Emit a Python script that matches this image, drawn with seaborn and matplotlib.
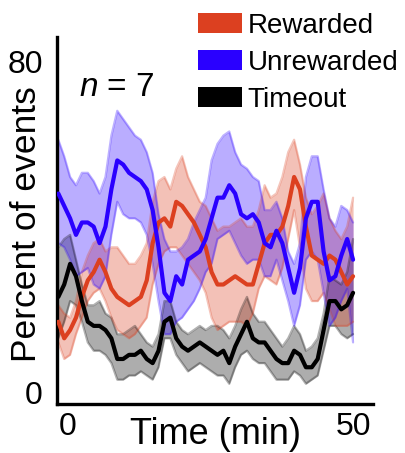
import numpy as np
import pandas as pd
import matplotlib
matplotlib.use("Agg")
import matplotlib.pyplot as plt
from matplotlib.patches import Patch
import seaborn as sns

# ---------------- data ----------------
time_min = list(range(0, 51))

unrewarded_mean = [48, 45, 42, 38, 41, 41, 40, 36, 40, 49, 56, 55, 53, 52, 51, 49, 44, 35, 24, 22,
                   28, 26, 32, 33, 34, 37, 42, 47, 47, 50, 48, 43, 42, 43, 41, 36, 35, 39, 36, 30,
                   24, 30, 42, 46, 46, 34, 27, 28, 33, 37, 32]
unrewarded_upper = [61, 57, 52, 50, 53, 53, 51, 48, 52, 62, 68, 66, 64, 62, 61, 58, 53, 43, 37, 34,
                    34, 35, 37, 41, 44, 47, 56, 60, 62, 63, 58, 55, 54, 52, 51, 44, 44, 46, 42, 34,
                    31, 36, 52, 57, 57, 49, 42, 40, 45, 44, 41]
unrewarded_lower = [36, 35, 32, 28, 29, 30, 26, 25, 28, 38, 46, 43, 42, 42, 41, 38, 31, 22, 14, 14,
                    17, 18, 20, 22, 25, 29, 31, 37, 38, 39, 36, 33, 31, 32, 32, 28, 28, 32, 27, 22,
                    16, 21, 32, 34, 32, 24, 16, 18, 22, 25, 12]

rewarded_mean = [17, 13, 15, 18, 23, 27, 29, 32, 29, 25, 23, 22, 21, 22, 23, 27, 36, 41, 42, 40,
                 46, 45, 43, 41, 38, 35, 29, 26, 26, 27, 28, 27, 26, 26, 31, 36, 38, 38, 40, 45,
                 52, 49, 40, 33, 32, 31, 33, 32, 29, 26, 28]
rewarded_upper = [21, 19, 18, 22, 29, 33, 36, 37, 34, 35, 35, 33, 31, 31, 33, 36, 46, 51, 52, 49,
                  54, 57, 52, 49, 46, 45, 42, 39, 40, 40, 41, 42, 40, 40, 44, 50, 47, 48, 52, 58,
                  61, 55, 47, 43, 45, 48, 42, 39, 37, 40, 47]
rewarded_lower = [12, 8, 9, 14, 18, 22, 24, 25, 22, 18, 15, 14, 13, 14, 16, 18, 26, 31, 34, 35,
                  35, 33, 31, 29, 27, 24, 18, 15, 16, 17, 17, 17, 16, 19, 25, 28, 27, 26, 30, 37,
                  44, 35, 25, 22, 22, 24, 20, 16, 16, 16, 17]

timeout_mean = [23, 26, 31, 28, 22, 17, 16, 16, 15, 13, 8, 8, 9, 9, 10, 8, 7, 10, 17, 18,
                13, 11, 10, 11, 12, 11, 10, 9, 10, 7, 11, 14, 17, 13, 12, 12, 10, 8, 7, 7,
                10, 9, 6, 6, 8, 15, 22, 22, 20, 21, 24]
timeout_upper = [35, 37, 38, 32, 26, 21, 21, 22, 19, 18, 14, 14, 15, 16, 14, 12, 11, 14, 22, 22,
                 17, 15, 14, 15, 16, 15, 16, 16, 15, 13, 16, 20, 23, 19, 17, 17, 15, 13, 11, 13,
                 16, 14, 10, 11, 13, 19, 28, 27, 26, 29, 37]
timeout_lower = [13, 17, 22, 21, 17, 12, 10, 10, 9, 7, 3, 3, 4, 4, 5, 4, 3, 6, 13, 13,
                 9, 7, 5, 6, 7, 6, 5, 4, 4, 2, 6, 9, 10, 8, 7, 7, 5, 3, 3, 3,
                 5, 4, 2, 3, 4, 10, 16, 16, 14, 13, 14]

series_names = ["Rewarded", "Unrewarded", "Timeout"]
y_ticks = [0, 80]
x_ticks = [0, 50]
x_label = "Time (min)"
y_label = "Percent of events"
n_text = r"$n$ = 7"

# ---------------- style ----------------
sns.set_style("white")
plt.rcParams["font.family"] = ["Liberation Sans", "DejaVu Sans"]
plt.rcParams["mathtext.fontset"] = "custom"
plt.rcParams["mathtext.rm"] = "Liberation Sans"
plt.rcParams["mathtext.it"] = "Liberation Sans:italic"
for k in ["text.color", "axes.labelcolor", "xtick.color", "ytick.color"]:
    plt.rcParams[k] = "black"

colors = {"Rewarded": "#DC4020", "Unrewarded": "#2A00FF", "Timeout": "#000000"}

fig = plt.figure(figsize=(4.06, 4.53), dpi=100)
ax = fig.add_axes([0.140, 0.108, 0.779, 0.810])

bands = {
    "Timeout": (timeout_lower, timeout_upper),
    "Rewarded": (rewarded_lower, rewarded_upper),
    "Unrewarded": (unrewarded_lower, unrewarded_upper),
}
for name in ["Timeout", "Rewarded", "Unrewarded"]:
    lo, hi = bands[name]
    c = colors[name]
    ax.fill_between(time_min, lo, hi, color=c, alpha=0.32, linewidth=0, zorder=1)
    ax.plot(time_min, hi, color=c, alpha=0.3, lw=1.6, zorder=1.5)
    ax.plot(time_min, lo, color=c, alpha=0.3, lw=1.6, zorder=1.5)

df = pd.DataFrame({
    "time": time_min * 3,
    "value": rewarded_mean + unrewarded_mean + timeout_mean,
    "series": ["Rewarded"] * len(time_min) + ["Unrewarded"] * len(time_min) + ["Timeout"] * len(time_min),
})
for name in ["Rewarded", "Unrewarded", "Timeout"]:
    sns.lineplot(data=df[df["series"] == name], x="time", y="value", color=colors[name],
                 lw=3.0, ax=ax, legend=False, zorder=3, estimator=None)

ax.set_xlim(-0.25, 53.4)
ax.set_ylim(-2.9, 85.8)
ax.set_xticks(x_ticks)
ax.set_yticks(y_ticks)
ax.tick_params(axis="both", length=0, labelsize=23)
ax.tick_params(axis="y", pad=10)
ax.tick_params(axis="x", pad=6)
xl = ax.get_xticklabels()
xl[0].set_horizontalalignment("left")

for s in ["top", "right"]:
    ax.spines[s].set_visible(False)
for s in ["left", "bottom"]:
    ax.spines[s].set_color("black")
    ax.spines[s].set_linewidth(2.4)

ax.set_xlabel(x_label, fontsize=26)
ax.set_ylabel(y_label, fontsize=25.5)
ax.xaxis.set_label_coords(0.503, -0.035)
ax.yaxis.set_label_coords(-0.045, 0.49)

ax.text(0.19, 0.862, n_text, transform=ax.transAxes, fontsize=24, ha="center", va="center")

handles = [Patch(facecolor=colors[n], edgecolor="none", label=n) for n in series_names]
fig.legend(handles=handles, loc="upper left", bbox_to_anchor=(0.487, 0.972),
           frameon=False, fontsize=20, handlelength=1.58, handleheight=0.72,
           handletextpad=0.22, labelspacing=0.40, borderpad=0, borderaxespad=0)

fig.savefig("out.png", dpi=100)
